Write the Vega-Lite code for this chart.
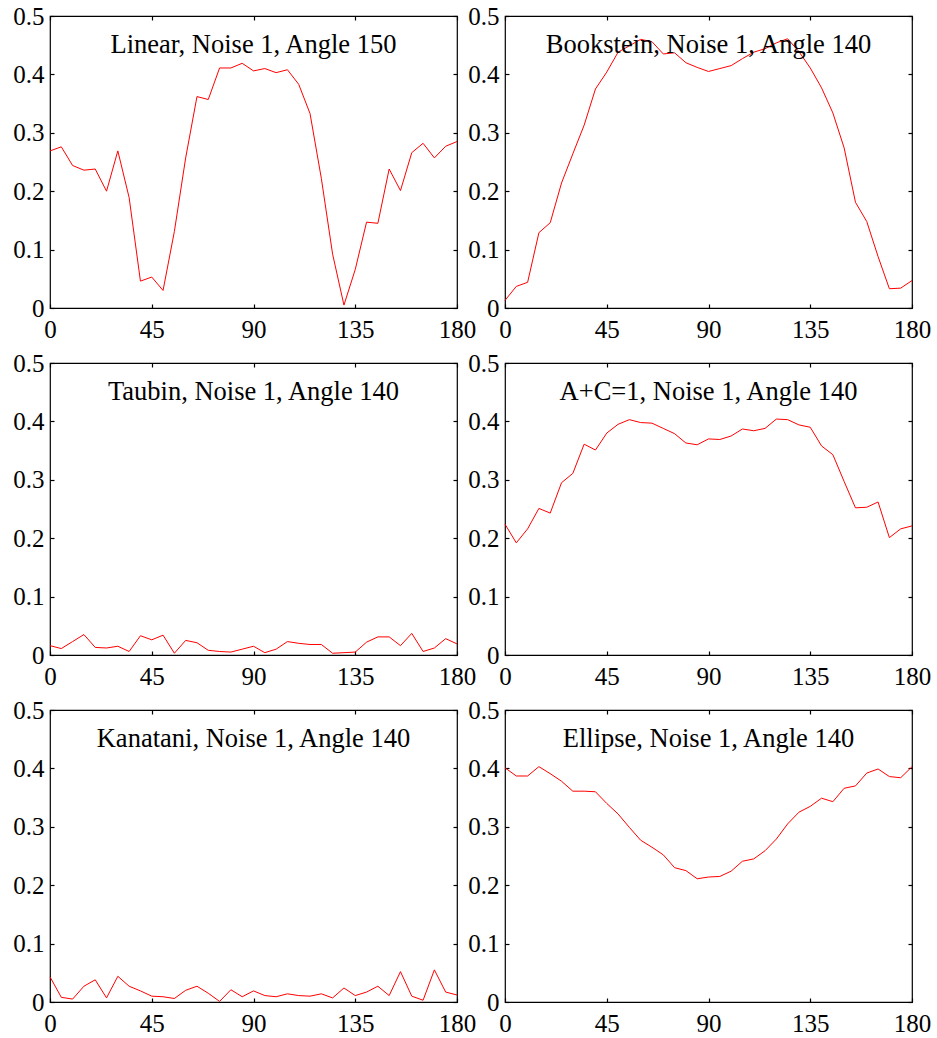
{
  "$schema": "https://vega.github.io/schema/vega-lite/v6.json",
  "background": "white",
  "padding": {"left": 12, "top": 3, "right": 5, "bottom": 5},
  "config": {
    "font": "Liberation Serif",
    "view": {"stroke": "black", "strokeWidth": 1.2},
    "axis": {"domain": false, "grid": false, "tickColor": "black", "tickSize": -4, "tickWidth": 1.2, "labelFont": "Liberation Serif", "labelFontSize": 25, "labelColor": "black", "labelFlush": false, "labelOverlap": false, "labelBound": false},
    "axisX": {"labelFont": "Liberation Serif", "labelFontSize": 25},
    "axisY": {"labelFont": "Liberation Serif", "labelFontSize": 25},
    "axisBottom": {"labelPadding": 13, "labelFont": "Liberation Serif"},
    "axisLeft": {"labelPadding": 10, "labelFont": "Liberation Serif"},
    "title": {"font": "Liberation Serif", "fontSize": 26.5, "fontWeight": "normal", "color": "black", "anchor": "middle", "frame": "group", "baseline": "alphabetic", "orient": "top", "offset": -54}
  },
  "datasets": {
    "linear": [
      {"angle":0,"err":0.269},{"angle":5,"err":0.276},{"angle":10,"err":0.244},{"angle":15,"err":0.236},{"angle":20,"err":0.238},{"angle":25,"err":0.200},{"angle":30,"err":0.269},{"angle":35,"err":0.189},{"angle":40,"err":0.046},{"angle":45,"err":0.053},{"angle":50,"err":0.030},{"angle":55,"err":0.131},{"angle":60,"err":0.257},{"angle":65,"err":0.362},{"angle":70,"err":0.357},{"angle":75,"err":0.411},{"angle":80,"err":0.411},{"angle":85,"err":0.419},{"angle":90,"err":0.406},{"angle":95,"err":0.410},{"angle":100,"err":0.403},{"angle":105,"err":0.408},{"angle":110,"err":0.383},{"angle":115,"err":0.333},{"angle":120,"err":0.222},{"angle":125,"err":0.092},{"angle":130,"err":0.005},{"angle":135,"err":0.066},{"angle":140,"err":0.147},{"angle":145,"err":0.145},{"angle":150,"err":0.238},{"angle":155,"err":0.201},{"angle":160,"err":0.266},{"angle":165,"err":0.282},{"angle":170,"err":0.257},{"angle":175,"err":0.277},{"angle":180,"err":0.285}
    ],
    "bookstein": [
      {"angle":0,"err":0.013},{"angle":5,"err":0.037},{"angle":10,"err":0.044},{"angle":15,"err":0.129},{"angle":20,"err":0.146},{"angle":25,"err":0.214},{"angle":30,"err":0.264},{"angle":35,"err":0.313},{"angle":40,"err":0.375},{"angle":45,"err":0.404},{"angle":50,"err":0.438},{"angle":55,"err":0.449},{"angle":60,"err":0.460},{"angle":65,"err":0.456},{"angle":70,"err":0.435},{"angle":75,"err":0.437},{"angle":80,"err":0.420},{"angle":85,"err":0.412},{"angle":90,"err":0.405},{"angle":95,"err":0.410},{"angle":100,"err":0.415},{"angle":105,"err":0.427},{"angle":110,"err":0.438},{"angle":115,"err":0.444},{"angle":120,"err":0.454},{"angle":125,"err":0.461},{"angle":130,"err":0.439},{"angle":135,"err":0.411},{"angle":140,"err":0.377},{"angle":145,"err":0.334},{"angle":150,"err":0.274},{"angle":155,"err":0.181},{"angle":160,"err":0.148},{"angle":165,"err":0.088},{"angle":170,"err":0.033},{"angle":175,"err":0.034},{"angle":180,"err":0.047}
    ],
    "taubin": [
      {"angle":0,"err":0.016},{"angle":5,"err":0.011},{"angle":10,"err":0.023},{"angle":15,"err":0.035},{"angle":20,"err":0.013},{"angle":25,"err":0.012},{"angle":30,"err":0.015},{"angle":35,"err":0.006},{"angle":40,"err":0.033},{"angle":45,"err":0.026},{"angle":50,"err":0.034},{"angle":55,"err":0.003},{"angle":60,"err":0.025},{"angle":65,"err":0.021},{"angle":70,"err":0.008},{"angle":75,"err":0.006},{"angle":80,"err":0.005},{"angle":85,"err":0.010},{"angle":90,"err":0.015},{"angle":95,"err":0.004},{"angle":100,"err":0.010},{"angle":105,"err":0.023},{"angle":110,"err":0.020},{"angle":115,"err":0.018},{"angle":120,"err":0.018},{"angle":125,"err":0.003},{"angle":130,"err":0.004},{"angle":135,"err":0.005},{"angle":140,"err":0.022},{"angle":145,"err":0.031},{"angle":150,"err":0.031},{"angle":155,"err":0.016},{"angle":160,"err":0.037},{"angle":165,"err":0.006},{"angle":170,"err":0.012},{"angle":175,"err":0.028},{"angle":180,"err":0.019}
    ],
    "apc": [
      {"angle":0,"err":0.224},{"angle":5,"err":0.192},{"angle":10,"err":0.216},{"angle":15,"err":0.251},{"angle":20,"err":0.243},{"angle":25,"err":0.295},{"angle":30,"err":0.311},{"angle":35,"err":0.361},{"angle":40,"err":0.351},{"angle":45,"err":0.380},{"angle":50,"err":0.395},{"angle":55,"err":0.403},{"angle":60,"err":0.398},{"angle":65,"err":0.397},{"angle":70,"err":0.388},{"angle":75,"err":0.379},{"angle":80,"err":0.363},{"angle":85,"err":0.360},{"angle":90,"err":0.370},{"angle":95,"err":0.369},{"angle":100,"err":0.375},{"angle":105,"err":0.387},{"angle":110,"err":0.384},{"angle":115,"err":0.388},{"angle":120,"err":0.404},{"angle":125,"err":0.403},{"angle":130,"err":0.394},{"angle":135,"err":0.390},{"angle":140,"err":0.358},{"angle":145,"err":0.343},{"angle":150,"err":0.297},{"angle":155,"err":0.252},{"angle":160,"err":0.253},{"angle":165,"err":0.262},{"angle":170,"err":0.201},{"angle":175,"err":0.216},{"angle":180,"err":0.221}
    ],
    "kanatani": [
      {"angle":0,"err":0.043},{"angle":5,"err":0.008},{"angle":10,"err":0.005},{"angle":15,"err":0.027},{"angle":20,"err":0.038},{"angle":25,"err":0.007},{"angle":30,"err":0.044},{"angle":35,"err":0.027},{"angle":40,"err":0.019},{"angle":45,"err":0.010},{"angle":50,"err":0.009},{"angle":55,"err":0.006},{"angle":60,"err":0.020},{"angle":65,"err":0.027},{"angle":70,"err":0.015},{"angle":75,"err":0.001},{"angle":80,"err":0.021},{"angle":85,"err":0.009},{"angle":90,"err":0.019},{"angle":95,"err":0.011},{"angle":100,"err":0.009},{"angle":105,"err":0.014},{"angle":110,"err":0.011},{"angle":115,"err":0.010},{"angle":120,"err":0.014},{"angle":125,"err":0.007},{"angle":130,"err":0.024},{"angle":135,"err":0.011},{"angle":140,"err":0.017},{"angle":145,"err":0.027},{"angle":150,"err":0.011},{"angle":155,"err":0.052},{"angle":160,"err":0.010},{"angle":165,"err":0.003},{"angle":170,"err":0.055},{"angle":175,"err":0.017},{"angle":180,"err":0.012}
    ],
    "ellipse": [
      {"angle":0,"err":0.401},{"angle":5,"err":0.387},{"angle":10,"err":0.387},{"angle":15,"err":0.403},{"angle":20,"err":0.391},{"angle":25,"err":0.378},{"angle":30,"err":0.361},{"angle":35,"err":0.361},{"angle":40,"err":0.360},{"angle":45,"err":0.340},{"angle":50,"err":0.322},{"angle":55,"err":0.299},{"angle":60,"err":0.277},{"angle":65,"err":0.265},{"angle":70,"err":0.252},{"angle":75,"err":0.230},{"angle":80,"err":0.225},{"angle":85,"err":0.211},{"angle":90,"err":0.214},{"angle":95,"err":0.215},{"angle":100,"err":0.224},{"angle":105,"err":0.241},{"angle":110,"err":0.245},{"angle":115,"err":0.259},{"angle":120,"err":0.279},{"angle":125,"err":0.305},{"angle":130,"err":0.325},{"angle":135,"err":0.335},{"angle":140,"err":0.349},{"angle":145,"err":0.343},{"angle":150,"err":0.366},{"angle":155,"err":0.370},{"angle":160,"err":0.392},{"angle":165,"err":0.399},{"angle":170,"err":0.386},{"angle":175,"err":0.384},{"angle":180,"err":0.403}
    ]
  },
  "columns": 2,
  "bounds": "flush",
  "spacing": {"row": 55, "column": 48},
  "concat": [
    {
      "title": "Linear, Noise 1, Angle 150",
      "data": {"name": "linear"},
      "width": 407, "height": 292,
      "layer": [
        {"mark": {"type": "line", "color": "#ff0000", "strokeWidth": 1},
         "encoding": {
           "x": {"field": "angle", "type": "quantitative", "scale": {"domain": [0, 180], "nice": false}, "axis": {"orient": "bottom", "values": [0, 45, 90, 135, 180], "title": null, "labelFont": "Liberation Serif"}},
           "y": {"field": "err", "type": "quantitative", "scale": {"domain": [0, 0.5], "nice": false}, "axis": {"orient": "left", "values": [0, 0.1, 0.2, 0.3, 0.4, 0.5], "format": ".1~f", "title": null, "labelFont": "Liberation Serif"}}}},
        {"mark": {"type": "line", "opacity": 0},
         "encoding": {
           "x": {"field": "angle", "type": "quantitative", "axis": {"orient": "top", "values": [0, 45, 90, 135, 180], "labels": false, "title": null}},
           "y": {"field": "err", "type": "quantitative", "axis": {"orient": "right", "values": [0, 0.1, 0.2, 0.3, 0.4, 0.5], "labels": false, "title": null}}}}
      ],
      "resolve": {"axis": {"x": "independent", "y": "independent"}}
    },
    {
      "title": "Bookstein, Noise 1, Angle 140",
      "data": {"name": "bookstein"},
      "width": 407, "height": 292,
      "layer": [
        {"mark": {"type": "line", "color": "#ff0000", "strokeWidth": 1},
         "encoding": {
           "x": {"field": "angle", "type": "quantitative", "scale": {"domain": [0, 180], "nice": false}, "axis": {"orient": "bottom", "values": [0, 45, 90, 135, 180], "title": null, "labelFont": "Liberation Serif"}},
           "y": {"field": "err", "type": "quantitative", "scale": {"domain": [0, 0.5], "nice": false}, "axis": {"orient": "left", "values": [0, 0.1, 0.2, 0.3, 0.4, 0.5], "format": ".1~f", "title": null, "labelFont": "Liberation Serif"}}}},
        {"mark": {"type": "line", "opacity": 0},
         "encoding": {
           "x": {"field": "angle", "type": "quantitative", "axis": {"orient": "top", "values": [0, 45, 90, 135, 180], "labels": false, "title": null}},
           "y": {"field": "err", "type": "quantitative", "axis": {"orient": "right", "values": [0, 0.1, 0.2, 0.3, 0.4, 0.5], "labels": false, "title": null}}}}
      ],
      "resolve": {"axis": {"x": "independent", "y": "independent"}}
    },
    {
      "title": "Taubin, Noise 1, Angle 140",
      "data": {"name": "taubin"},
      "width": 407, "height": 292,
      "layer": [
        {"mark": {"type": "line", "color": "#ff0000", "strokeWidth": 1},
         "encoding": {
           "x": {"field": "angle", "type": "quantitative", "scale": {"domain": [0, 180], "nice": false}, "axis": {"orient": "bottom", "values": [0, 45, 90, 135, 180], "title": null, "labelFont": "Liberation Serif"}},
           "y": {"field": "err", "type": "quantitative", "scale": {"domain": [0, 0.5], "nice": false}, "axis": {"orient": "left", "values": [0, 0.1, 0.2, 0.3, 0.4, 0.5], "format": ".1~f", "title": null, "labelFont": "Liberation Serif"}}}},
        {"mark": {"type": "line", "opacity": 0},
         "encoding": {
           "x": {"field": "angle", "type": "quantitative", "axis": {"orient": "top", "values": [0, 45, 90, 135, 180], "labels": false, "title": null}},
           "y": {"field": "err", "type": "quantitative", "axis": {"orient": "right", "values": [0, 0.1, 0.2, 0.3, 0.4, 0.5], "labels": false, "title": null}}}}
      ],
      "resolve": {"axis": {"x": "independent", "y": "independent"}}
    },
    {
      "title": "A+C=1, Noise 1, Angle 140",
      "data": {"name": "apc"},
      "width": 407, "height": 292,
      "layer": [
        {"mark": {"type": "line", "color": "#ff0000", "strokeWidth": 1},
         "encoding": {
           "x": {"field": "angle", "type": "quantitative", "scale": {"domain": [0, 180], "nice": false}, "axis": {"orient": "bottom", "values": [0, 45, 90, 135, 180], "title": null, "labelFont": "Liberation Serif"}},
           "y": {"field": "err", "type": "quantitative", "scale": {"domain": [0, 0.5], "nice": false}, "axis": {"orient": "left", "values": [0, 0.1, 0.2, 0.3, 0.4, 0.5], "format": ".1~f", "title": null, "labelFont": "Liberation Serif"}}}},
        {"mark": {"type": "line", "opacity": 0},
         "encoding": {
           "x": {"field": "angle", "type": "quantitative", "axis": {"orient": "top", "values": [0, 45, 90, 135, 180], "labels": false, "title": null}},
           "y": {"field": "err", "type": "quantitative", "axis": {"orient": "right", "values": [0, 0.1, 0.2, 0.3, 0.4, 0.5], "labels": false, "title": null}}}}
      ],
      "resolve": {"axis": {"x": "independent", "y": "independent"}}
    },
    {
      "title": "Kanatani, Noise 1, Angle 140",
      "data": {"name": "kanatani"},
      "width": 407, "height": 292,
      "layer": [
        {"mark": {"type": "line", "color": "#ff0000", "strokeWidth": 1},
         "encoding": {
           "x": {"field": "angle", "type": "quantitative", "scale": {"domain": [0, 180], "nice": false}, "axis": {"orient": "bottom", "values": [0, 45, 90, 135, 180], "title": null, "labelFont": "Liberation Serif"}},
           "y": {"field": "err", "type": "quantitative", "scale": {"domain": [0, 0.5], "nice": false}, "axis": {"orient": "left", "values": [0, 0.1, 0.2, 0.3, 0.4, 0.5], "format": ".1~f", "title": null, "labelFont": "Liberation Serif"}}}},
        {"mark": {"type": "line", "opacity": 0},
         "encoding": {
           "x": {"field": "angle", "type": "quantitative", "axis": {"orient": "top", "values": [0, 45, 90, 135, 180], "labels": false, "title": null}},
           "y": {"field": "err", "type": "quantitative", "axis": {"orient": "right", "values": [0, 0.1, 0.2, 0.3, 0.4, 0.5], "labels": false, "title": null}}}}
      ],
      "resolve": {"axis": {"x": "independent", "y": "independent"}}
    },
    {
      "title": "Ellipse, Noise 1, Angle 140",
      "data": {"name": "ellipse"},
      "width": 407, "height": 292,
      "layer": [
        {"mark": {"type": "line", "color": "#ff0000", "strokeWidth": 1},
         "encoding": {
           "x": {"field": "angle", "type": "quantitative", "scale": {"domain": [0, 180], "nice": false}, "axis": {"orient": "bottom", "values": [0, 45, 90, 135, 180], "title": null, "labelFont": "Liberation Serif"}},
           "y": {"field": "err", "type": "quantitative", "scale": {"domain": [0, 0.5], "nice": false}, "axis": {"orient": "left", "values": [0, 0.1, 0.2, 0.3, 0.4, 0.5], "format": ".1~f", "title": null, "labelFont": "Liberation Serif"}}}},
        {"mark": {"type": "line", "opacity": 0},
         "encoding": {
           "x": {"field": "angle", "type": "quantitative", "axis": {"orient": "top", "values": [0, 45, 90, 135, 180], "labels": false, "title": null}},
           "y": {"field": "err", "type": "quantitative", "axis": {"orient": "right", "values": [0, 0.1, 0.2, 0.3, 0.4, 0.5], "labels": false, "title": null}}}}
      ],
      "resolve": {"axis": {"x": "independent", "y": "independent"}}
    }
  ]
}
